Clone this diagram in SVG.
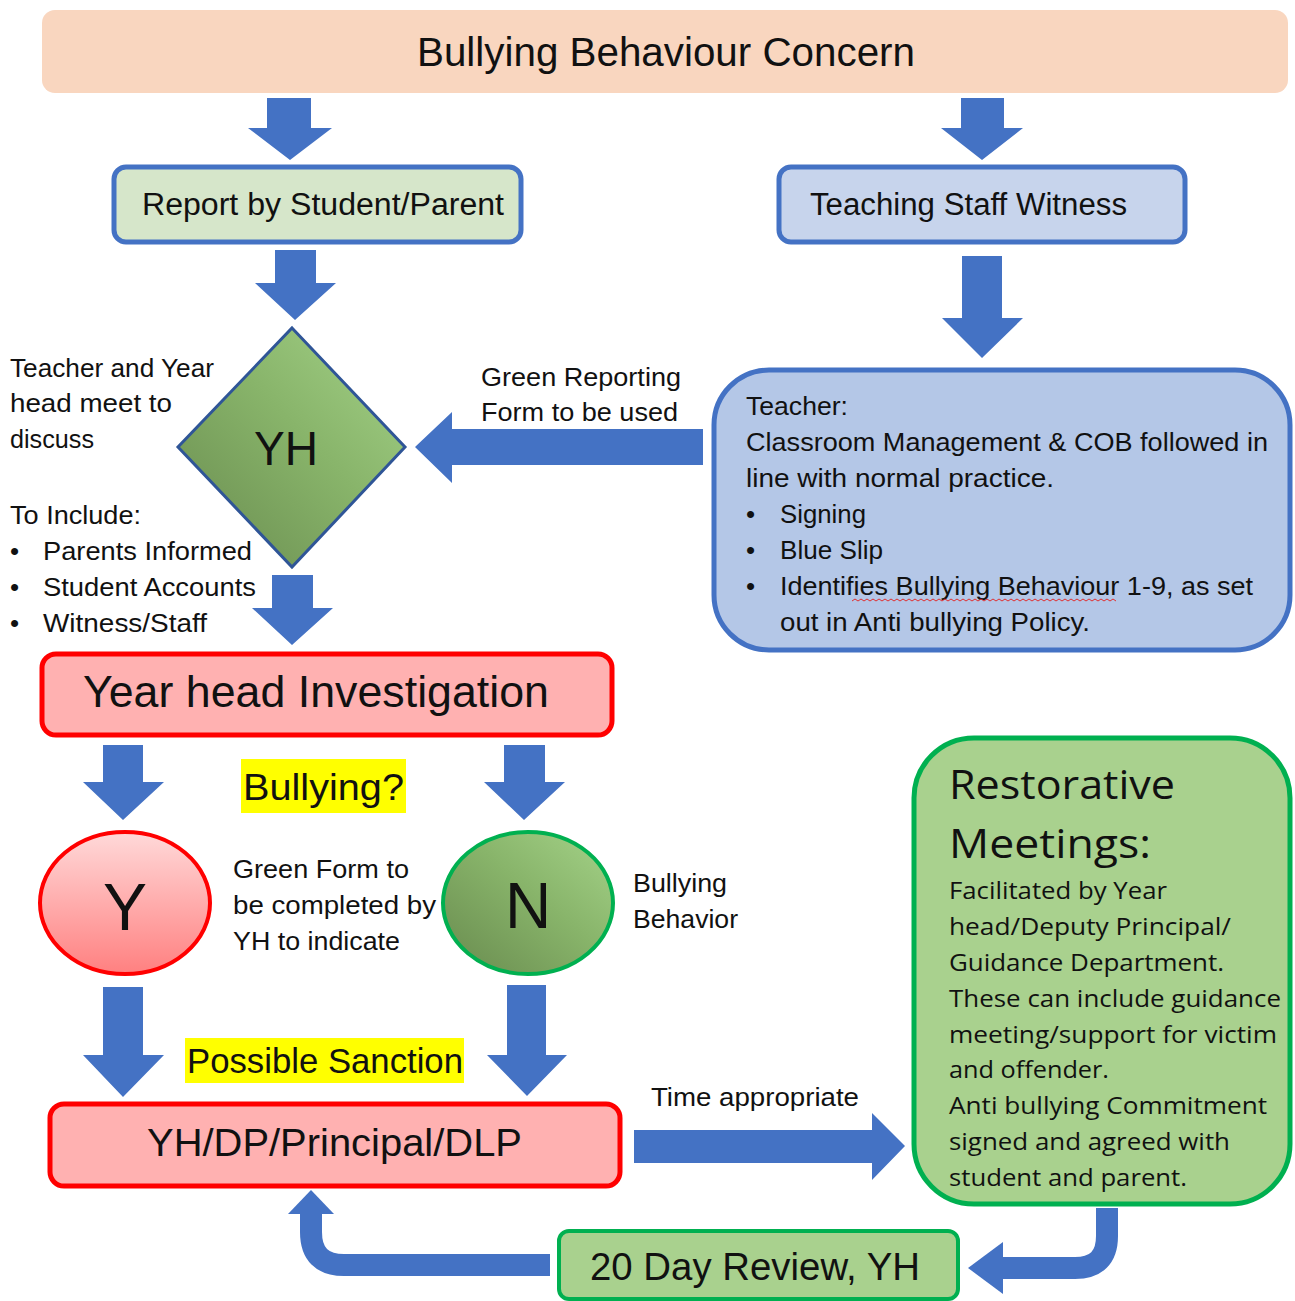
<svg xmlns="http://www.w3.org/2000/svg" width="1295" height="1301" viewBox="0 0 1295 1301">
<style>
text{font-family:"Liberation Sans",Arial,sans-serif;fill:#111;}
.b{font-size:26px;}
.r{font-family:"Open Sans","Liberation Sans",sans-serif;font-size:24px;}
.arrow{fill:#4472C4;}
.bent{fill:none;stroke:#4472C4;stroke-width:22;}
</style>
<defs>
<linearGradient id="gGreen" x1="0" y1="1" x2="1" y2="0">
<stop offset="0" stop-color="#688A4E"/>
<stop offset="0.55" stop-color="#88B46A"/>
<stop offset="1" stop-color="#A5D389"/>
</linearGradient>
<linearGradient id="gRed" x1="0" y1="0" x2="0" y2="1">
<stop offset="0" stop-color="#FFD9D9"/>
<stop offset="1" stop-color="#FF8080"/>
</linearGradient>
</defs>

<g id="connectors">
<polygon class="arrow" points="267,98 311,98 311,128 332,128 290,160 248,128 267,128"/>
<polygon class="arrow" points="961,98 1004,98 1004,128 1023,128 982,160 941,128 961,128"/>
<polygon class="arrow" points="275,250 316,250 316,283 336,283 295,320 255,283 275,283"/>
<polygon class="arrow" points="962,256 1002,256 1002,318 1023,318 982,358 942,318 962,318"/>
<polygon class="arrow" points="703,429 703,465 452,465 452,483 415,447 452,412 452,429"/>
<polygon class="arrow" points="272,575 313,575 313,608 333,608 292,645 252,608 272,608"/>
<polygon class="arrow" points="103,745 143,745 143,782 164,782 123,820 83,782 103,782"/>
<polygon class="arrow" points="504,745 545,745 545,782 565,782 524,820 484,782 504,782"/>
<polygon class="arrow" points="103,987 143,987 143,1055 164,1055 123,1097 83,1055 103,1055"/>
<polygon class="arrow" points="507,985 546,985 546,1055 567,1055 527,1096 487,1055 507,1055"/>
<polygon class="arrow" points="634,1130 872,1130 872,1113 905,1146 872,1180 872,1163 634,1163"/>
<path class="bent" d="M1107,1208 V1236 Q1107,1268 1075,1268 H1000"/>
<polygon class="arrow" points="1003,1242 968,1268 1003,1294"/>
<path class="bent" d="M550,1265 H344 Q311,1265 311,1232 V1212"/>
<polygon class="arrow" points="288,1214 311,1190 334,1214"/>
</g>

<g id="concern">
<rect x="42" y="10" width="1246" height="83" rx="13" fill="#F9D6BF"/>
<text x="666" y="66" font-size="40" text-anchor="middle" textLength="498" lengthAdjust="spacingAndGlyphs">Bullying Behaviour Concern</text>
</g>

<g id="report">
<rect x="114" y="167" width="407" height="75" rx="12" fill="#D6E6CA" stroke="#4472C4" stroke-width="5"/>
<text x="142" y="215" font-size="31" textLength="362" lengthAdjust="spacingAndGlyphs">Report by Student/Parent</text>
</g>

<g id="witness">
<rect x="779" y="167" width="406" height="75" rx="12" fill="#C7D4EC" stroke="#4472C4" stroke-width="5"/>
<text x="810" y="215" font-size="31" textLength="317" lengthAdjust="spacingAndGlyphs">Teaching Staff Witness</text>
</g>

<g id="yh-diamond">
<polygon points="292,328 405,447 292,567 178,447" fill="url(#gGreen)" stroke="#2F5597" stroke-width="3"/>
<text x="286" y="465" font-size="48" text-anchor="middle" textLength="64" lengthAdjust="spacingAndGlyphs">YH</text>
</g>

<g id="meet-note">
<text class="b" x="10" y="377" textLength="204" lengthAdjust="spacingAndGlyphs">Teacher and Year</text>
<text class="b" x="10" y="412" textLength="162" lengthAdjust="spacingAndGlyphs">head meet to</text>
<text class="b" x="10" y="448" textLength="84" lengthAdjust="spacingAndGlyphs">discuss</text>
<text class="b" x="10" y="524" textLength="131" lengthAdjust="spacingAndGlyphs">To Include:</text>
<text class="b" x="10" y="560">•</text>
<text class="b" x="43" y="560" textLength="209" lengthAdjust="spacingAndGlyphs">Parents Informed</text>
<text class="b" x="10" y="596">•</text>
<text class="b" x="43" y="596" textLength="213" lengthAdjust="spacingAndGlyphs">Student Accounts</text>
<text class="b" x="10" y="632">•</text>
<text class="b" x="43" y="632" textLength="164" lengthAdjust="spacingAndGlyphs">Witness/Staff</text>
</g>

<g id="green-form-label">
<text class="b" x="481" y="386" textLength="200" lengthAdjust="spacingAndGlyphs">Green Reporting</text>
<text class="b" x="481" y="421" textLength="197" lengthAdjust="spacingAndGlyphs">Form to be used</text>
</g>

<g id="teacher">
<rect x="714" y="370" width="576" height="280" rx="55" fill="#B4C7E7" stroke="#4472C4" stroke-width="5"/>
<text class="b" x="746" y="415" textLength="102" lengthAdjust="spacingAndGlyphs">Teacher:</text>
<text class="b" x="746" y="451" textLength="522" lengthAdjust="spacingAndGlyphs">Classroom Management &amp; COB followed in</text>
<text class="b" x="746" y="487" textLength="308" lengthAdjust="spacingAndGlyphs">line with normal practice.</text>
<text class="b" x="746" y="523">•</text>
<text class="b" x="780" y="523" textLength="86" lengthAdjust="spacingAndGlyphs">Signing</text>
<text class="b" x="746" y="559">•</text>
<text class="b" x="780" y="559" textLength="103" lengthAdjust="spacingAndGlyphs">Blue Slip</text>
<text class="b" x="746" y="595">•</text>
<text class="b" x="780" y="595" textLength="473" lengthAdjust="spacingAndGlyphs">Identifies Bullying Behaviour 1-9, as set</text>
<path d="M852,601 l3,-2 l3,2 l3,-2 l3,2 l3,-2 l3,2 l3,-2 l3,2 l3,-2 l3,2 l3,-2 l3,2 l3,-2 l3,2 l3,-2 l3,2 l3,-2 l3,2 l3,-2 l3,2 l3,-2 l3,2 l3,-2 l3,2 l3,-2 l3,2 l3,-2 l3,2 l3,-2 l3,2 l3,-2 l3,2 l3,-2 l3,2 l3,-2 l3,2 l3,-2 l3,2 l3,-2 l3,2 l3,-2 l3,2 l3,-2 l3,2 l3,-2 l3,2 l3,-2 l3,2 l3,-2 l3,2 l3,-2 l3,2 l3,-2 l3,2 l3,-2 l3,2 l3,-2 l3,2 l3,-2 l3,2 l3,-2 l3,2 l3,-2 l3,2 l3,-2 l3,2 l3,-2 l3,2 l3,-2 l3,2 l3,-2 l3,2 l3,-2 l3,2 l3,-2 l3,2 l3,-2 l3,2 l3,-2 l3,2 l3,-2 l3,2 l3,-2 l3,2 l3,-2 l3,2 l3,-2 l3,2" fill="none" stroke="#E03030" stroke-width="1"/>
<text class="b" x="780" y="631" textLength="310" lengthAdjust="spacingAndGlyphs">out in Anti bullying Policy.</text>
</g>

<g id="investigation">
<rect x="42" y="654" width="570" height="81" rx="14" fill="#FFB1B1" stroke="#FF0000" stroke-width="5"/>
<text x="83" y="707" font-size="44" textLength="466" lengthAdjust="spacingAndGlyphs">Year head Investigation</text>
</g>

<g id="bullying-q">
<rect x="241" y="759" width="165" height="54" fill="#FFFF00"/>
<text x="243" y="800" font-size="37" textLength="161" lengthAdjust="spacingAndGlyphs">Bullying?</text>
</g>

<g id="yes">
<ellipse cx="125" cy="903" rx="85" ry="71" fill="url(#gRed)" stroke="#FF0000" stroke-width="4"/>
<text x="125" y="930" font-size="66" text-anchor="middle">Y</text>
</g>

<g id="green-form-note">
<text class="b" x="233" y="878" textLength="176" lengthAdjust="spacingAndGlyphs">Green Form to</text>
<text class="b" x="233" y="914" textLength="203" lengthAdjust="spacingAndGlyphs">be completed by</text>
<text class="b" x="233" y="950" textLength="167" lengthAdjust="spacingAndGlyphs">YH to indicate</text>
</g>

<g id="no">
<ellipse cx="528" cy="903" rx="85" ry="71" fill="url(#gGreen)" stroke="#00B050" stroke-width="4"/>
<text x="528" y="928" font-size="64" text-anchor="middle">N</text>
</g>

<g id="behavior-note">
<text class="b" x="633" y="892" textLength="94" lengthAdjust="spacingAndGlyphs">Bullying</text>
<text class="b" x="633" y="928" textLength="105" lengthAdjust="spacingAndGlyphs">Behavior</text>
</g>

<g id="sanction">
<rect x="185" y="1038" width="279" height="45" fill="#FFFF00"/>
<text x="187" y="1073" font-size="35" textLength="276" lengthAdjust="spacingAndGlyphs">Possible Sanction</text>
</g>

<g id="principal">
<rect x="50" y="1104" width="570" height="82" rx="14" fill="#FFB1B1" stroke="#FF0000" stroke-width="5"/>
<text x="147" y="1156" font-size="38" textLength="375" lengthAdjust="spacingAndGlyphs">YH/DP/Principal/DLP</text>
</g>

<g id="time-label">
<text class="b" x="651" y="1106" textLength="208" lengthAdjust="spacingAndGlyphs">Time appropriate</text>
</g>

<g id="restorative">
<rect x="914" y="738" width="376" height="466" rx="60" fill="#A9D18E" stroke="#00B050" stroke-width="5"/>
<text class="r" x="949" y="799" textLength="226" lengthAdjust="spacingAndGlyphs" style="font-size:40px">Restorative</text>
<text class="r" x="949" y="858" textLength="202" lengthAdjust="spacingAndGlyphs" style="font-size:40px">Meetings:</text>
<text class="r" x="949" y="899" textLength="218" lengthAdjust="spacingAndGlyphs">Facilitated by Year</text>
<text class="r" x="949" y="935" textLength="282" lengthAdjust="spacingAndGlyphs">head/Deputy Principal/</text>
<text class="r" x="949" y="971" textLength="275" lengthAdjust="spacingAndGlyphs">Guidance Department.</text>
<text class="r" x="949" y="1007" textLength="332" lengthAdjust="spacingAndGlyphs">These can include guidance</text>
<text class="r" x="949" y="1043" textLength="328" lengthAdjust="spacingAndGlyphs">meeting/support for victim</text>
<text class="r" x="949" y="1078" textLength="160" lengthAdjust="spacingAndGlyphs">and offender.</text>
<text class="r" x="949" y="1114" textLength="318" lengthAdjust="spacingAndGlyphs">Anti bullying Commitment</text>
<text class="r" x="949" y="1150" textLength="281" lengthAdjust="spacingAndGlyphs">signed and agreed with</text>
<text class="r" x="949" y="1186" textLength="238" lengthAdjust="spacingAndGlyphs">student and parent.</text>
</g>

<g id="review">
<rect x="559" y="1231" width="399" height="68" rx="10" fill="#A9D18E" stroke="#00B050" stroke-width="4"/>
<text x="590" y="1280" font-size="38" textLength="330" lengthAdjust="spacingAndGlyphs">20 Day Review, YH</text>
</g>
</svg>
